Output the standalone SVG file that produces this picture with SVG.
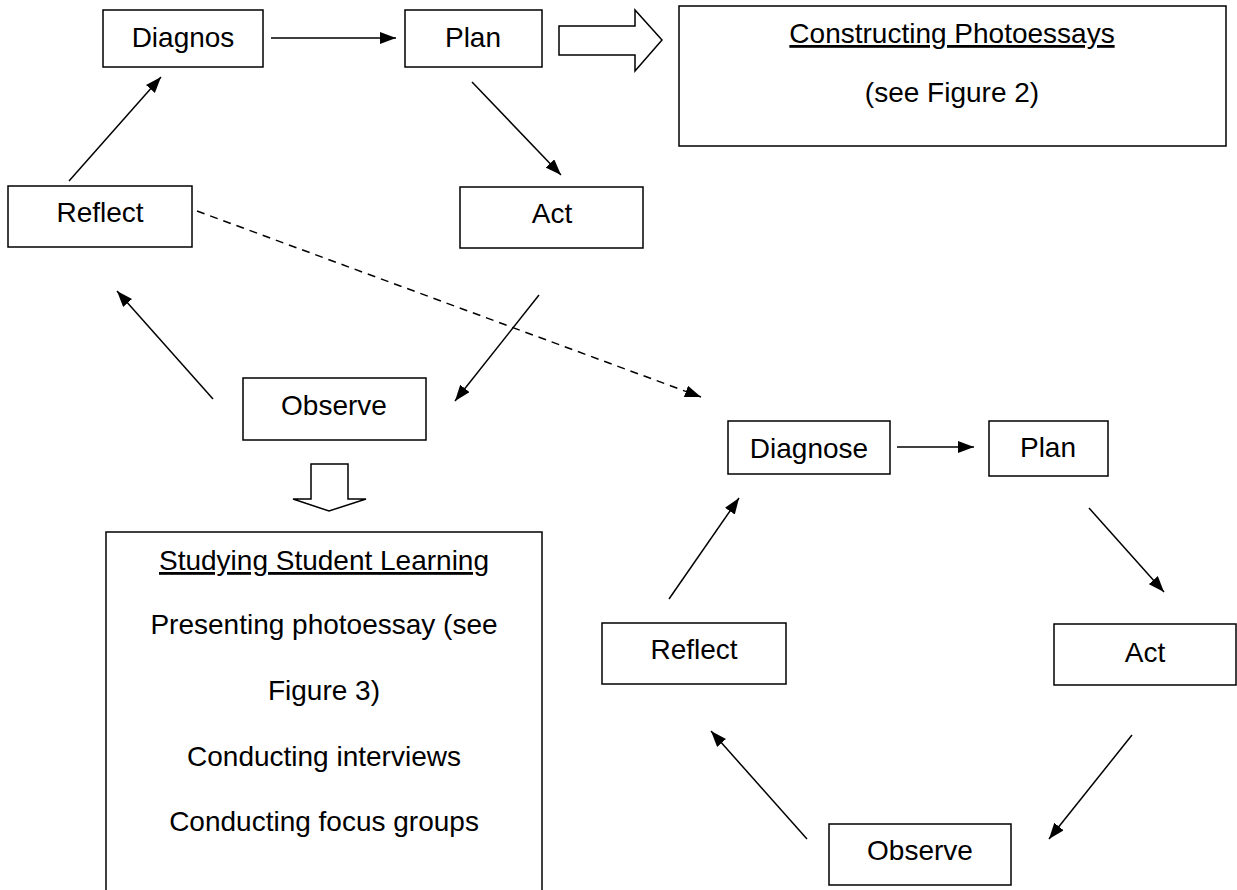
<svg xmlns="http://www.w3.org/2000/svg" width="1237" height="890" viewBox="0 0 1237 890">
<style>
.box{fill:#fff;stroke:#000;stroke-width:1.5}
.lbl{font-family:"Liberation Sans",Arial,sans-serif;font-size:28px;fill:#000;text-anchor:middle}
.ul{text-decoration:underline}
.con{stroke:#000;stroke-width:1.5;fill:none;marker-end:url(#ah)}
.dash{stroke-dasharray:8,6}
.blk{fill:#fff;stroke:#000;stroke-width:1.5;stroke-linejoin:miter}
</style>
<defs>
<marker id="ah" markerUnits="userSpaceOnUse" markerWidth="16" markerHeight="12" refX="16" refY="6" orient="auto">
<path d="M0,0 L16,6 L0,12 z" fill="#000"/>
</marker>
</defs>
<rect width="1237" height="890" fill="#fff"/>
<g id="connectors">
<line class="con" x1="271" y1="38" x2="396" y2="38"/>
<line class="con" x1="472" y1="82" x2="561" y2="175"/>
<line class="con" x1="539" y1="295" x2="455" y2="401"/>
<line class="con" x1="213" y1="399" x2="117" y2="291"/>
<line class="con" x1="69" y1="181" x2="161" y2="77"/>
<line class="con dash" x1="197" y1="211" x2="701" y2="397"/>
<line class="con" x1="897" y1="447" x2="974" y2="447"/>
<line class="con" x1="1089" y1="508" x2="1164" y2="592"/>
<line class="con" x1="1132" y1="735" x2="1049" y2="839"/>
<line class="con" x1="807" y1="839" x2="711" y2="731"/>
<line class="con" x1="669" y1="599" x2="739" y2="498"/>
<path id="block-right" class="blk" d="M559,26 L635,26 L635,10 L662,40 L635,71 L635,55 L559,55 Z"/>
<path id="block-down" class="blk" d="M311,464 L348,464 L348,499 L366,499 L329,511 L293,499 L311,499 Z"/>
</g>
<g id="diagnos1"><rect class="box" x="103" y="10" width="160" height="57"/><text class="lbl" x="183" y="47">Diagnos</text></g>
<g id="plan1"><rect class="box" x="405" y="10" width="137" height="57"/><text class="lbl" x="473" y="47">Plan</text></g>
<g id="constructing"><rect class="box" x="679" y="6" width="547" height="140"/><text class="lbl ul" x="952" y="43">Constructing Photoessays</text><text class="lbl" x="952" y="102">(see Figure 2)</text></g>
<g id="reflect1"><rect class="box" x="8" y="186" width="184" height="61"/><text class="lbl" x="100" y="222">Reflect</text></g>
<g id="act1"><rect class="box" x="460" y="187" width="183" height="61"/><text class="lbl" x="552" y="223">Act</text></g>
<g id="observe1"><rect class="box" x="243" y="378" width="183" height="62"/><text class="lbl" x="334" y="415">Observe</text></g>
<g id="studying"><rect class="box" x="106" y="532" width="436" height="370"/>
<text class="lbl ul" x="324" y="570">Studying Student Learning</text>
<text class="lbl" x="324" y="634">Presenting photoessay (see</text>
<text class="lbl" x="324" y="700">Figure 3)</text>
<text class="lbl" x="324" y="766">Conducting interviews</text>
<text class="lbl" x="324" y="831">Conducting focus groups</text></g>
<g id="diagnose2"><rect class="box" x="728" y="421" width="162" height="53"/><text class="lbl" x="809" y="458">Diagnose</text></g>
<g id="plan2"><rect class="box" x="989" y="421" width="119" height="55"/><text class="lbl" x="1048" y="457">Plan</text></g>
<g id="reflect2"><rect class="box" x="602" y="623" width="184" height="61"/><text class="lbl" x="694" y="659">Reflect</text></g>
<g id="act2"><rect class="box" x="1054" y="624" width="182" height="61"/><text class="lbl" x="1145" y="662">Act</text></g>
<g id="observe2"><rect class="box" x="829" y="824" width="182" height="61"/><text class="lbl" x="920" y="860">Observe</text></g>
</svg>
